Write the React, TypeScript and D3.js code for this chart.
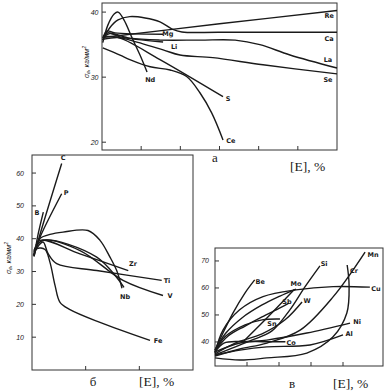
import React from 'react';
import * as d3 from 'd3';

type Pt = [number, number];

// panel а : curves (x = [E], %, arbitrary units; y = σв, кг/мм²)
const aRe: Pt[] = [[0.02, 36.1], [3, 38.2], [6, 40.25]];
const aCa: Pt[] = [[0.02, 35.7], [0.2, 37.6], [0.41, 38.8], [0.71, 39.3], [1.1, 39.1], [1.48, 38.5], [1.79, 37.4], [2.04, 36.95], [3.0, 36.9], [6.0, 36.9]];
const aNd: Pt[] = [[0.02, 35.3], [0.15, 38.0], [0.31, 39.7], [0.41, 40.0], [0.56, 38.8], [0.77, 36.0], [0.97, 33.4], [1.15, 30.8]];
const aMg: Pt[] = [[0.02, 36.0], [0.13, 37.1], [0.33, 36.8], [1.56, 36.6]];
const aLi: Pt[] = [[0.02, 35.7], [0.15, 36.8], [0.46, 36.2], [1.56, 35.4]];
const aLa: Pt[] = [[0.02, 36.0], [0.2, 36.7], [0.71, 36.0], [1.48, 35.7], [2.5, 35.7], [3.4, 35.7], [4.03, 35.0], [4.8, 33.4], [6.0, 31.4]];
const aSe: Pt[] = [[0.02, 35.8], [0.4, 36.1], [0.71, 35.7], [1.56, 34.2], [1.99, 33.4], [2.83, 33.0], [4.11, 31.9], [6.0, 30.5]];
const aS: Pt[] = [[0.02, 36.3], [0.46, 36.0], [1.48, 32.7], [3.09, 27.0]];
const aCe: Pt[] = [[0.02, 34.5], [0.46, 33.4], [0.71, 32.7], [1.23, 31.6], [1.74, 31.1], [2.16, 30.1], [2.5, 27.6], [2.8, 24.5], [3.09, 20.35]];
const aXTicks = [1, 2, 3, 4, 5];
const aYTicks = [20, 30, 40];

// panel б
const bC: Pt[] = [[0.037, 34.6], [0.117, 39.5], [0.553, 62.9]];
const bP: Pt[] = [[0.037, 34.6], [0.117, 39.2], [0.553, 53.7]];
const bB: Pt[] = [[0.075, 38.0], [0.117, 41.6], [0.211, 48.1]];
const bNb: Pt[] = [[0.037, 34.9], [0.093, 38.6], [0.149, 40.1], [0.335, 41.3], [0.578, 42.0], [1.043, 42.5], [1.267, 39.5], [1.453, 34.4], [1.578, 30.3], [1.677, 24.9]];
const bNb2: Pt[] = [[0.037, 36.4], [0.205, 39.5], [1.206, 34.4], [1.714, 25.2]];
const bZr: Pt[] = [[0.037, 35.8], [0.149, 39.5], [0.894, 35.4], [1.794, 30.3]];
const bV: Pt[] = [[0.037, 36.4], [0.205, 39.5], [0.894, 36.4], [1.696, 27.3], [2.441, 22.7]];
const bTi: Pt[] = [[0.037, 35.8], [0.205, 39.0], [0.298, 35.5], [0.46, 32.4], [1.206, 30.3], [2.417, 27.3]];
const bFe: Pt[] = [[0.024, 34.9], [0.093, 37.0], [0.242, 36.7], [0.335, 32.8], [0.429, 25.8], [0.522, 20.6], [0.708, 18.4], [1.267, 14.5], [2.199, 9.0]];
const bXTicks = [1, 2];
const bYTicks = [10, 20, 30, 40, 50, 60];

// panel в
const vBe: Pt[] = [[0, 37.0], [0.22, 42.6], [0.56, 50.7], [0.94, 58.2], [1.24, 63.0]];
const vCu: Pt[] = [[0, 35.9], [0.25, 44.4], [0.77, 51.9], [1.5, 56.8], [2.53, 59.3], [3.69, 60.5], [4.84, 60.3]];
const vMo: Pt[] = [[0, 37.0], [0.34, 43.3], [0.84, 48.9], [1.47, 53.7], [2.03, 57.0], [2.53, 59.6]];
const vMo2: Pt[] = [[0.84, 39.6], [1.66, 49.3], [2.47, 59.3]];
const vSb: Pt[] = [[0, 36.7], [0.41, 42.2], [0.94, 45.9], [1.47, 49.3], [2.03, 52.6], [2.31, 54.4]];
const vSn: Pt[] = [[0, 36.3], [0.31, 41.9], [0.94, 46.3], [1.47, 48.2], [2.03, 48.5]];
const vW: Pt[] = [[0, 35.6], [0.63, 39.6], [1.47, 43.0], [2.19, 48.2], [2.72, 54.8]];
const vSi: Pt[] = [[0, 35.2], [1.09, 40.4], [1.78, 44.1], [2.34, 51.9], [2.81, 60.4], [3.28, 68.2]];
const vMn: Pt[] = [[0, 34.8], [0.78, 37.4], [1.62, 39.6], [2.66, 44.4], [3.69, 56.7], [4.69, 73.3]];
const vCr: Pt[] = [[0, 34.1], [0.78, 33.3], [1.62, 34.1], [2.87, 35.9], [3.69, 41.9], [4.12, 50.7], [4.19, 61.1], [4.13, 68.5]];
const vNi: Pt[] = [[0, 36.3], [0.78, 39.6], [1.62, 40.7], [2.87, 43.3], [4.22, 47.0]];
const vAl: Pt[] = [[0, 35.2], [0.78, 37.0], [1.62, 38.2], [2.97, 38.9], [4.0, 42.6]];
const vCo: Pt[] = [[0, 36.3], [0.28, 39.6], [0.78, 40.2], [1.62, 40.1], [2.2, 40.1]];
const vXTicks = [1, 2, 3, 4];
const vYTicks = [40, 50, 60, 70];

type Curve = { name: string; pts: Pt[]; at?: Pt };

const panels = [
  {
    frame: { x0: 102, x1: 337, y0: 3, y1: 150 }, xDomain: [0, 6], yDomain: [18.8, 41.4],
    xTicks: aXTicks, yTicks: aYTicks, tickGap: 3.5,
    title: 'а', titlePos: [215, 157], ePos: [290, 166], yLabel: [86, 62],
    curves: [
      { name: 'Re', pts: aRe, at: [5.8, 39.4] }, { name: 'Ca', pts: aCa, at: [5.8, 35.86] },
      { name: 'La', pts: aLa, at: [5.77, 32.64] }, { name: 'Se', pts: aSe, at: [5.77, 29.56] },
      { name: 'S', pts: aS, at: [3.22, 26.64] }, { name: 'Ce', pts: aCe, at: [3.29, 20.18] },
      { name: 'Nd', pts: aNd, at: [1.23, 29.56] }, { name: 'Mg', pts: aMg, at: [1.68, 36.63] },
      { name: 'Li', pts: aLi, at: [1.84, 34.63] },
    ] as Curve[],
  },
  {
    frame: { x0: 32, x1: 193, y0: 155, y1: 370 }, xDomain: [0, 3], yDomain: [0, 65.5],
    xTicks: bXTicks, yTicks: bYTicks, tickGap: 8,
    title: 'б', titlePos: [93, 381], ePos: [139, 381], yLabel: [8, 258],
    curves: [
      { name: 'C', pts: bC, at: [0.578, 64.58] }, { name: 'P', pts: bP, at: [0.634, 53.91] },
      { name: 'B', pts: bB, at: [0.093, 47.82] }, { name: 'Zr', pts: bZr, at: [1.882, 32.29] },
      { name: 'Ti', pts: bTi, at: [2.515, 27.11] }, { name: 'V', pts: bV, at: [2.571, 22.54] },
      { name: 'Nb', pts: bNb, at: [1.733, 22.24] }, { name: '', pts: bNb2 },
      { name: 'Fe', pts: bFe, at: [2.348, 8.83] },
    ] as Curve[],
  },
  {
    frame: { x0: 215, x1: 383, y0: 248, y1: 366 }, xDomain: [0, 5.25], yDomain: [31.1, 74.8],
    xTicks: vXTicks, yTicks: vYTicks, tickGap: 6,
    title: 'в', titlePos: [292, 383], ePos: [333, 383], yLabel: null,
    curves: [
      { name: 'Be', pts: vBe, at: [1.41, 62.22] }, { name: 'Mo', pts: vMo, at: [2.53, 61.48] },
      { name: '', pts: vMo2 }, { name: 'Sb', pts: vSb, at: [2.25, 54.81] },
      { name: 'Sn', pts: vSn, at: [1.78, 46.67] }, { name: 'W', pts: vW, at: [2.88, 55.19] },
      { name: 'Si', pts: vSi, at: [3.41, 68.89] }, { name: 'Mn', pts: vMn, at: [4.94, 72.22] },
      { name: 'Cr', pts: vCr, at: [4.34, 66.3] }, { name: 'Cu', pts: vCu, at: [5.03, 59.63] },
      { name: 'Ni', pts: vNi, at: [4.44, 47.41] }, { name: 'Al', pts: vAl, at: [4.19, 42.96] },
      { name: 'Co', pts: vCo, at: [2.38, 39.63] },
    ] as Curve[],
  },
];

const ink = '#1a1a1a';

const Panel = ({ p }: { p: typeof panels[number] }) => {
  const { x0, x1, y0, y1 } = p.frame;
  const x = d3.scaleLinear().domain(p.xDomain).range([x0, x1]);
  const y = d3.scaleLinear().domain(p.yDomain).range([y1, y0]);
  const line = d3.line<Pt>()
    .x(d => x(d[0]))
    .y(d => y(d[1]))
    .curve(d3.curveCatmullRom.alpha(0.5));

  return (
    <g>
      <rect x={x0} y={y0} width={x1 - x0} height={y1 - y0} fill="none" stroke="#333" strokeWidth={1} />
      {p.xTicks.map(t => (
        <line key={'xt' + t} x1={x(t)} x2={x(t)} y1={y1} y2={y1 - 4} stroke="#333" />
      ))}
      {p.yTicks.map(t => (
        <g key={'yt' + t}>
          <line x1={x0} x2={x0 + 4} y1={y(t)} y2={y(t)} stroke="#333" />
          <text x={x0 - p.tickGap} y={y(t)} textAnchor="end" dominantBaseline="central"
            fontFamily="Liberation Sans, sans-serif" fontStyle="italic" fontSize={7} fill={ink}>{t}</text>
        </g>
      ))}
      {p.curves.map((c, i) => (
        <path key={'c' + i} d={line(c.pts) ?? ''} fill="none" stroke={ink} strokeWidth={1.4} />
      ))}
      {p.curves.filter(c => c.name && c.at).map(c => (
        <text key={'l' + c.name} x={x(c.at![0])} y={y(c.at![1])} textAnchor="middle" dominantBaseline="central"
          fontFamily="DejaVu Sans, sans-serif" fontWeight="bold" fontSize={6.5} fill={ink}>{c.name}</text>
      ))}
      <text x={p.titlePos[0]} y={p.titlePos[1]} textAnchor="middle" dominantBaseline="central"
        fontFamily="Liberation Serif, serif" fontSize={13} fill={ink}>{p.title}</text>
      <text x={p.ePos[0]} y={p.ePos[1]} dominantBaseline="central"
        fontFamily="Liberation Serif, serif" fontSize={13.5} fill={ink}>[E], %</text>
      {p.yLabel && (
        <text transform={`translate(${p.yLabel[0]},${p.yLabel[1]}) rotate(-90)`} textAnchor="middle" dominantBaseline="central"
          fontFamily="Liberation Sans, sans-serif" fontStyle="italic" fontSize={7} fill={ink}>
          σ<tspan fontSize={5} dy={2}>в</tspan><tspan dy={-2}>, кг/мм</tspan><tspan fontSize={5} dy={-2}>2</tspan>
        </text>
      )}
    </g>
  );
};

export default function App() {
  return (
    <svg width={385} height={391} style={{ position: 'absolute', left: 0, top: 0, background: '#fff' }}>
      {panels.map((p, i) => <Panel key={i} p={p} />)}
    </svg>
  );
}
